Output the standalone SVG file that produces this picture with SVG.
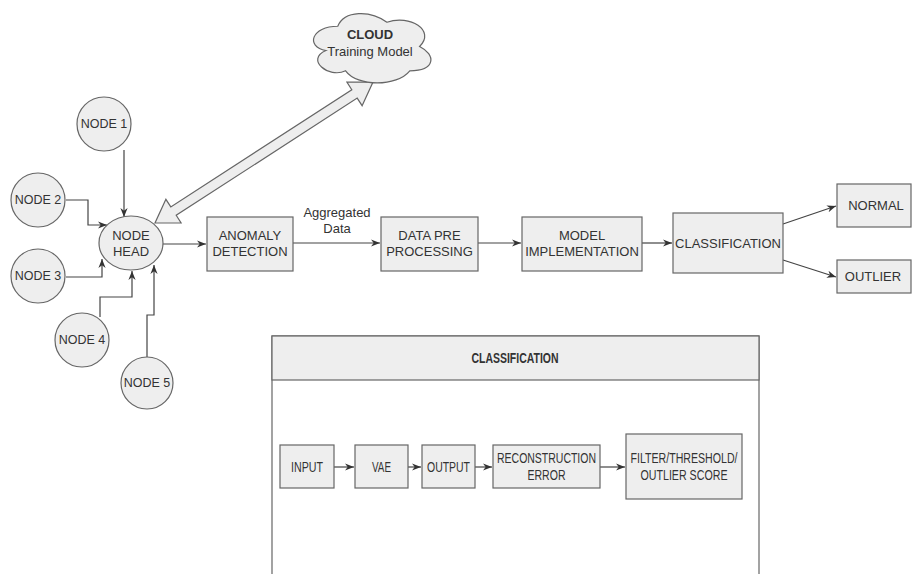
<svg xmlns="http://www.w3.org/2000/svg" width="912" height="574" viewBox="0 0 912 574">
<defs>
<marker id="arr" viewBox="0 0 10 10" refX="10" refY="5" markerWidth="9" markerHeight="9" markerUnits="userSpaceOnUse" orient="auto">
<path d="M0,1 L10,5 L0,9 L3,5 z" fill="#333333"/>
</marker>
<style>
.n{fill:#eeeeee;stroke:#666666;stroke-width:1.2}
.t{font-family:"Liberation Sans",Arial,sans-serif;font-size:13px;fill:#333333;text-anchor:middle}
.s{font-size:12.5px}
.k{font-size:14px}
.b{font-weight:bold}
.c{fill:none;stroke:#444444;stroke-width:1.2;marker-end:url(#arr)}
</style>
</defs>
<rect width="912" height="574" fill="#ffffff"/>

<g id="container">
<rect x="272" y="336" width="487" height="250" fill="#ffffff" stroke="#666666" stroke-width="1.2"/>
<rect x="272" y="336" width="487" height="44" fill="#eeeeee" stroke="#666666" stroke-width="1.2"/>
<text class="t b k" x="515" y="363" textLength="87" lengthAdjust="spacingAndGlyphs">CLASSIFICATION</text>
</g>

<g id="connectors">
<path class="c" d="M124,150 L124,217"/>
<path class="c" d="M66,200 L88,200 L88,225 L107,225"/>
<path class="c" d="M66,277 L102,277 L102,259"/>
<path class="c" d="M100,317 L100,297 L132,297 L132,271"/>
<path class="c" d="M147,357 L147,315 L154,315 L154,265"/>
<path class="c" d="M163,244 L206,244"/>
<path class="c" d="M293,243 L380,243"/>
<path class="c" d="M478,243 L521,243"/>
<path class="c" d="M642,243 L672,243"/>
<path class="c" d="M783,224 L836,206"/>
<path class="c" d="M783,260 L836,277"/>
<path class="c" d="M334,467 L354,467"/>
<path class="c" d="M408,467 L421,467"/>
<path class="c" d="M475,467 L492,467"/>
<path class="c" d="M600,467 L625,467"/>
<polygon id="cloud-link" points="155,223 181.1,222.9 176.2,215.3 357.2,98.1 362.1,105.7 373,82 346.9,82.1 351.8,89.7 170.8,206.9 165.9,199.3" fill="#eeeeee" stroke="#666666" stroke-width="1.2" stroke-linejoin="miter"/>
<text class="t" x="337" y="217">Aggregated</text>
<text class="t" x="337" y="233">Data</text>
</g>

<g id="cloud">
<path class="n" d="M337.75,26.25 C311.55,26.25 305,46.5 325.96,50.55 C305,59.46 328.58,78.9 345.61,70.8 C357.4,87 396.7,87 409.8,70.8 C436,70.8 436,54.6 419.6,46.5 C436,30.3 409.8,14.1 386.9,22.2 C370.5,10.05 344.3,10.05 337.75,26.25 Z"/>
<text class="t b" x="370" y="39">CLOUD</text>
<text class="t" x="370" y="56">Training Model</text>
</g>

<g id="node1"><circle class="n" cx="104" cy="124" r="27"/><text class="t s" x="104" y="128">NODE 1</text></g>
<g id="node2"><circle class="n" cx="38" cy="200" r="27"/><text class="t s" x="38" y="204">NODE 2</text></g>
<g id="node3"><circle class="n" cx="38" cy="276" r="27"/><text class="t s" x="38" y="280">NODE 3</text></g>
<g id="node4"><circle class="n" cx="82" cy="340" r="27"/><text class="t s" x="82" y="344">NODE 4</text></g>
<g id="node5"><circle class="n" cx="147" cy="383" r="26"/><text class="t s" x="147" y="387">NODE 5</text></g>
<g id="nodehead"><ellipse class="n" cx="131" cy="243" rx="32" ry="27"/><text class="t" x="131" y="240">NODE</text><text class="t" x="131" y="256">HEAD</text></g>

<g id="anomaly"><rect class="n" x="207" y="217" width="86" height="54"/><text class="t" x="250" y="240">ANOMALY</text><text class="t" x="250" y="256">DETECTION</text></g>
<g id="datapre"><rect class="n" x="381" y="217" width="97" height="54"/><text class="t" x="429.5" y="240">DATA PRE</text><text class="t" x="429.5" y="256">PROCESSING</text></g>
<g id="model"><rect class="n" x="522" y="217" width="120" height="54"/><text class="t" x="582" y="240">MODEL</text><text class="t" x="582" y="256">IMPLEMENTATION</text></g>
<g id="classification"><rect class="n" x="673" y="213" width="110" height="60"/><text class="t" x="728" y="248">CLASSIFICATION</text></g>
<g id="normal"><rect class="n" x="837" y="184" width="74" height="43"/><text class="t" x="876" y="210">NORMAL</text></g>
<g id="outlier"><rect class="n" x="837" y="260" width="74" height="33"/><text class="t" x="873" y="281">OUTLIER</text></g>

<g id="input"><rect class="n" x="280" y="445" width="54" height="43"/><text class="t k" x="307" y="472" textLength="32" lengthAdjust="spacingAndGlyphs">INPUT</text></g>
<g id="vae"><rect class="n" x="355" y="445" width="53" height="43"/><text class="t k" x="381.5" y="472" textLength="19" lengthAdjust="spacingAndGlyphs">VAE</text></g>
<g id="output"><rect class="n" x="422" y="445" width="53" height="43"/><text class="t k" x="448.5" y="472" textLength="43" lengthAdjust="spacingAndGlyphs">OUTPUT</text></g>
<g id="recon"><rect class="n" x="493" y="445" width="107" height="43"/><text class="t k" x="546.5" y="463" textLength="99" lengthAdjust="spacingAndGlyphs">RECONSTRUCTION</text><text class="t k" x="546.5" y="480" textLength="38" lengthAdjust="spacingAndGlyphs">ERROR</text></g>
<g id="filter"><rect class="n" x="626" y="434" width="116" height="65"/><text class="t k" x="684" y="463" textLength="107" lengthAdjust="spacingAndGlyphs">FILTER/THRESHOLD/</text><text class="t k" x="684" y="480" textLength="87" lengthAdjust="spacingAndGlyphs">OUTLIER SCORE</text></g>
</svg>
